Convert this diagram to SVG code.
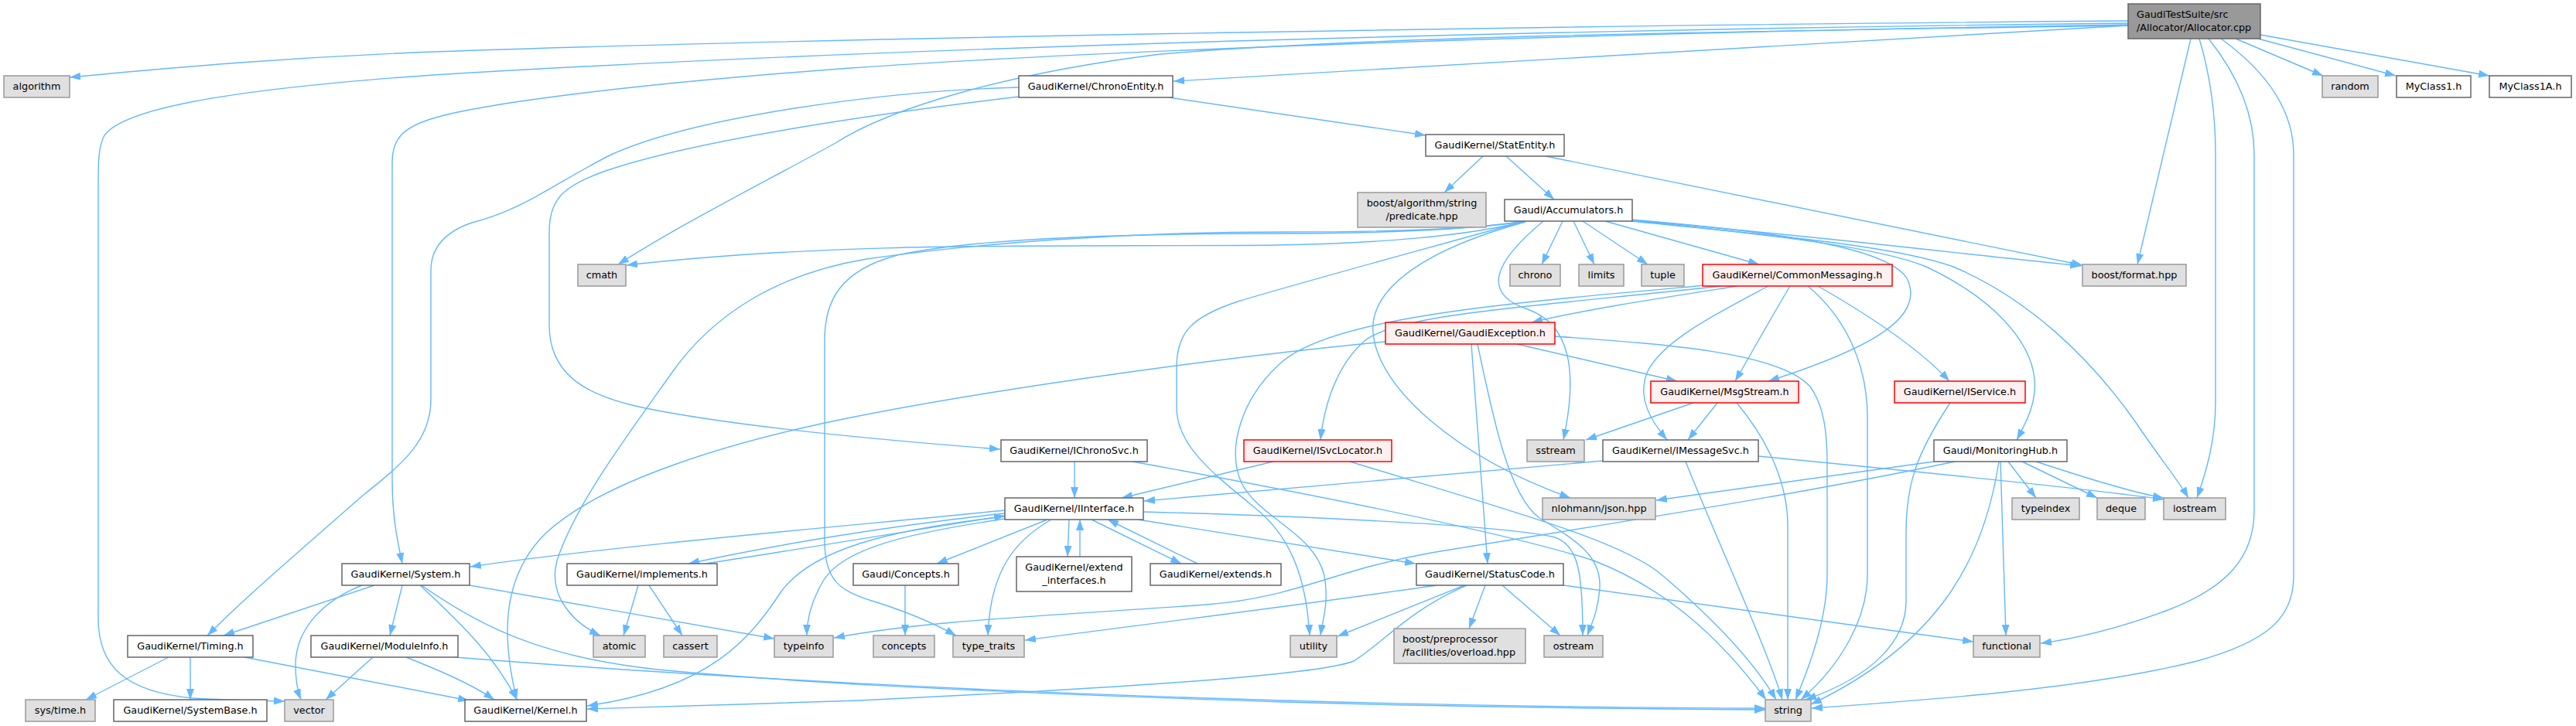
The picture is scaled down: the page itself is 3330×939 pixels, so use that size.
<svg xmlns="http://www.w3.org/2000/svg" width="3330" height="939" viewBox="0 0 3330 939">
<style>
.e{fill:none;stroke:#63b8ff;stroke-width:1.4;marker-end:url(#arr)}
.n{fill:#ffffff;stroke:#666666;stroke-width:1.5}
.g{fill:#e0e0e0;stroke:#999999;stroke-width:1.5}
.r{fill:#fff0f0;stroke:#ff0000;stroke-width:1.5}
.rt{fill:#999999;stroke:#666666;stroke-width:1.5}
text{font-family:"DejaVu Sans",Verdana,sans-serif;font-size:12.8px;fill:#000000;text-anchor:middle}
.l{text-anchor:start}
</style>
<defs>
<marker id="arr" viewBox="0 0 14 10" refX="14" refY="5" markerWidth="14" markerHeight="10" markerUnits="userSpaceOnUse" orient="auto"><path d="M0,0 L14,5 L0,10 z" fill="#63b8ff"/></marker>
</defs>
<rect width="3330" height="939" fill="#ffffff"/>
<g id="edges">
<path class="e" d="M2751,27 C2100,32 1100,48 560,67 C350,75 200,90 90,100"/>
<path class="e" d="M2751,30 C2100,37 1200,58 560,97 C300,115 160,140 135,175 C127,190 127,210 127,240 L127,800 C127,860 160,895 250,903 C300,906 340,906 368,907"/>
<path class="e" d="M2751,33 C2300,40 1800,45 1500,70 C1300,95 1150,140 1080,185 C980,240 880,290 799,342"/>
<path class="e" d="M2751,32 C2200,40 1500,60 1100,88 C800,110 620,135 560,153 C520,165 507,180 507,210 L507,620 C507,670 514,700 520,729"/>
<path class="e" d="M2751,33 L1517,105"/>
<path class="e" d="M2832,50 L2763,342"/>
<path class="e" d="M2890,50 L3003,98"/>
<path class="e" d="M2919,50 L3097,98"/>
<path class="e" d="M2922,45 L3218,98"/>
<path class="e" d="M2843,50 C2858,100 2864,150 2864,200 L2864,520 C2864,570 2852,610 2840,644"/>
<path class="e" d="M2855,50 C2895,100 2914,150 2914,200 L2914,660 C2914,720 2880,760 2800,790 C2740,812 2690,825 2638,832"/>
<path class="e" d="M2871,50 C2940,100 2965,150 2965,200 L2965,745 C2965,800 2930,830 2840,855 C2700,890 2500,905 2342,916"/>
<path class="e" d="M1511,126 L1843,175"/>
<path class="e" d="M1317,113 C1150,117 900,150 790,200 C720,235 680,270 610,288 C575,300 557,320 557,350 L557,517 C557,570 520,600 470,640 C390,710 320,770 268,822"/>
<path class="e" d="M1317,125 C1150,145 900,180 780,222 C725,242 710,260 710,300 L710,420 C710,480 750,510 830,527 C950,552 1150,570 1293,581"/>
<path class="e" d="M1917,202 L1867,249"/>
<path class="e" d="M1947,202 L2009,258"/>
<path class="e" d="M1998,202 L2692,343"/>
<path class="e" d="M2020,286 L1993,342"/>
<path class="e" d="M2034,286 L2061,342"/>
<path class="e" d="M2046,286 L2130,342"/>
<path class="e" d="M2075,286 L2274,342"/>
<path class="e" d="M1972,286 C1900,305 1780,315 1650,317 C1400,320 1100,310 810,343"/>
<path class="e" d="M1972,286 C1900,298 1760,300 1660,300 C1450,300 1260,315 1120,335 C1000,355 920,410 870,480 C810,565 745,650 720,725 C708,770 740,805 776,822"/>
<path class="e" d="M1970,286 C1900,298 1760,302 1660,302 C1450,302 1260,308 1160,330 C1085,350 1066,390 1066,440 L1066,700 C1066,750 1085,765 1130,778 C1175,792 1205,805 1236,822"/>
<path class="e" d="M1971,286 C1850,320 1700,360 1600,390 C1540,410 1521,430 1521,475 L1521,527 C1521,575 1565,610 1620,655 C1665,690 1688,740 1693,822"/>
<path class="e" d="M1995,286 C1930,340 1915,380 1975,400 C2030,420 2040,480 2021,569"/>
<path class="e" d="M1972,287 C1850,320 1770,370 1775,430 C1780,500 1880,590 2030,644"/>
<path class="e" d="M2108,284 C2300,300 2440,320 2465,360 C2490,410 2420,450 2286,493"/>
<path class="e" d="M2108,285 C2300,305 2430,320 2490,345 C2575,385 2625,440 2630,490 C2633,520 2620,545 2607,569"/>
<path class="e" d="M2108,286 C2300,305 2450,318 2525,345 C2620,385 2700,460 2760,545 C2790,590 2815,620 2829,644"/>
<path class="e" d="M2108,285 C2300,300 2550,330 2690,344"/>
<path class="e" d="M2246,370 C2150,385 2050,400 1980,417"/>
<path class="e" d="M2286,370 C2220,405 2150,440 2130,480 C2115,515 2135,545 2155,569"/>
<path class="e" d="M2314,370 C2290,410 2265,455 2243,493"/>
<path class="e" d="M2337,370 C2385,410 2414,470 2414,540 L2414,743 C2414,800 2380,860 2328,905"/>
<path class="e" d="M2350,370 C2420,410 2480,450 2520,493"/>
<path class="e" d="M2225,370 C2000,395 1810,405 1765,440 C1730,470 1712,520 1707,569"/>
<path class="e" d="M2205,369 C1950,392 1720,410 1655,470 C1605,515 1585,580 1605,625 C1628,670 1700,690 1712,745 C1718,780 1710,800 1707,822"/>
<path class="e" d="M1791,442 C1600,460 1300,500 1100,540 C950,570 780,620 705,690 C645,750 650,830 668,905"/>
<path class="e" d="M1902,445 L1923,729"/>
<path class="e" d="M1910,445 C1930,540 1950,640 1990,670 C2040,700 2070,720 2068,760 C2066,790 2058,805 2052,822"/>
<path class="e" d="M1961,445 L2168,493"/>
<path class="e" d="M2010,435 C2150,445 2300,455 2340,500 C2358,525 2362,560 2362,600 L2362,743 C2362,800 2340,860 2321,905"/>
<path class="e" d="M2189,521 L2050,569"/>
<path class="e" d="M2220,521 L2182,569"/>
<path class="e" d="M2245,521 C2290,575 2311,630 2311,680 L2311,905"/>
<path class="e" d="M2072,596 L1479,648"/>
<path class="e" d="M2179,597 C2220,700 2285,840 2304,905"/>
<path class="e" d="M2273,590 C2500,612 2700,632 2797,646"/>
<path class="e" d="M2500,597 L2141,647"/>
<path class="e" d="M2527,597 C2300,645 2000,690 1850,715 C1720,738 1680,772 1560,782 C1350,797 1200,802 1078,825"/>
<path class="e" d="M2596,597 L2632,644"/>
<path class="e" d="M2614,597 L2711,644"/>
<path class="e" d="M2632,597 Q2750,636 2797,644"/>
<path class="e" d="M2586,597 L2593,822"/>
<path class="e" d="M2584,597 C2565,720 2510,830 2341,911"/>
<path class="e" d="M2521,521 C2475,590 2464,630 2464,690 L2464,777 C2464,830 2420,875 2334,905"/>
<path class="e" d="M1646,597 L1450,644"/>
<path class="e" d="M1745,597 C1950,660 2100,700 2150,745 C2220,805 2270,860 2296,905"/>
<path class="e" d="M1389,597 L1389,644"/>
<path class="e" d="M1464,597 C1700,640 1950,690 2060,725 C2150,760 2220,820 2283,905"/>
<path class="e" d="M1299,660 C1100,680 800,705 608,733"/>
<path class="e" d="M1299,664 C1150,680 1000,705 890,729"/>
<path class="e" d="M912,729 C1050,708 1200,682 1299,667"/>
<path class="e" d="M1299,668 C1150,685 1050,710 1010,765 C970,825 920,890 759,913"/>
<path class="e" d="M1299,671 C1170,690 1090,710 1065,750 C1048,778 1043,800 1043,822"/>
<path class="e" d="M1354,672 L1211,729"/>
<path class="e" d="M1359,672 C1310,700 1280,740 1277,822"/>
<path class="e" d="M1382,672 L1380,720"/>
<path class="e" d="M1396,720 L1396,672"/>
<path class="e" d="M1411,672 L1527,729"/>
<path class="e" d="M1548,729 L1432,672"/>
<path class="e" d="M1471,672 L1830,729"/>
<path class="e" d="M1478,662 C1700,668 1950,680 2010,695 C2040,705 2046,740 2046,822"/>
<path class="e" d="M1170,757 L1170,822"/>
<path class="e" d="M825,757 L806,822"/>
<path class="e" d="M839,757 L882,822"/>
<path class="e" d="M484,757 L289,822"/>
<path class="e" d="M468,757 C410,780 382,820 382,860 C382,880 385,895 389,905"/>
<path class="e" d="M520,757 L504,822"/>
<path class="e" d="M543,757 C600,810 640,850 668,905"/>
<path class="e" d="M607,757 L1001,826"/>
<path class="e" d="M545,757 C620,810 700,850 850,866 C1000,880 1200,893 1660,908 C1900,915 2150,917 2282,918"/>
<path class="e" d="M218,850 L111,905"/>
<path class="e" d="M246,850 L246,905"/>
<path class="e" d="M316,850 L606,906"/>
<path class="e" d="M482,850 L421,905"/>
<path class="e" d="M525,850 C570,868 610,885 639,905"/>
<path class="e" d="M588,850 C900,875 1300,896 1660,906 C1900,913 2150,916 2282,916"/>
<path class="e" d="M1920,757 L1899,813"/>
<path class="e" d="M1942,757 L2017,822"/>
<path class="e" d="M1893,757 L1729,823"/>
<path class="e" d="M1896,757 C1820,790 1790,830 1750,855 C1700,875 1400,892 1110,906 C1000,910 850,914 759,917"/>
<path class="e" d="M1857,757 C1700,780 1500,805 1325,828"/>
<path class="e" d="M2021,757 L2551,830"/>
</g>
<g id="n_root"><rect class="rt" x="2751" y="5" width="171" height="45"/><text class="l" x="2762" y="22.5">GaudiTestSuite/src</text><text class="l" x="2762" y="40">/Allocator/Allocator.cpp</text></g>
<g id="n_algorithm"><rect class="g" x="5" y="98" width="85" height="28"/><text x="47.5" y="116">algorithm</text></g>
<g id="n_chronoentity"><rect class="n" x="1317" y="98" width="199" height="28"/><text x="1416.5" y="116">GaudiKernel/ChronoEntity.h</text></g>
<g id="n_random"><rect class="g" x="3002" y="98" width="72" height="28"/><text x="3038" y="116">random</text></g>
<g id="n_myclass1"><rect class="n" x="3098" y="98" width="96" height="28"/><text x="3146" y="116">MyClass1.h</text></g>
<g id="n_myclass1a"><rect class="n" x="3218" y="98" width="106" height="28"/><text x="3271" y="116">MyClass1A.h</text></g>
<g id="n_statentity"><rect class="n" x="1843" y="174" width="179" height="28"/><text x="1932.5" y="192">GaudiKernel/StatEntity.h</text></g>
<g id="n_predicate"><rect class="g" x="1755" y="249" width="166" height="45"/><text x="1838" y="266.5">boost/algorithm/string</text><text x="1838" y="283.5">/predicate.hpp</text></g>
<g id="n_accumulators"><rect class="n" x="1945" y="258" width="165" height="28"/><text x="2027.5" y="276">Gaudi/Accumulators.h</text></g>
<g id="n_cmath"><rect class="g" x="747" y="342" width="62" height="28"/><text x="778" y="360">cmath</text></g>
<g id="n_chrono"><rect class="g" x="1952" y="342" width="65" height="28"/><text x="1984.5" y="360">chrono</text></g>
<g id="n_limits"><rect class="g" x="2041" y="342" width="58" height="28"/><text x="2070" y="360">limits</text></g>
<g id="n_tuple"><rect class="g" x="2122" y="342" width="55" height="28"/><text x="2149.5" y="360">tuple</text></g>
<g id="n_commonmessaging"><rect class="r" x="2201" y="342" width="245" height="28"/><text x="2323.5" y="360">GaudiKernel/CommonMessaging.h</text></g>
<g id="n_format"><rect class="g" x="2692" y="342" width="134" height="28"/><text x="2759" y="360">boost/format.hpp</text></g>
<g id="n_gaudiexception"><rect class="r" x="1791" y="417" width="219" height="28"/><text x="1900.5" y="435">GaudiKernel/GaudiException.h</text></g>
<g id="n_msgstream"><rect class="r" x="2134" y="493" width="191" height="28"/><text x="2229.5" y="511">GaudiKernel/MsgStream.h</text></g>
<g id="n_iservice"><rect class="r" x="2449" y="493" width="169" height="28"/><text x="2533.5" y="511">GaudiKernel/IService.h</text></g>
<g id="n_ichronosvc"><rect class="n" x="1294" y="569" width="189" height="28"/><text x="1388.5" y="587">GaudiKernel/IChronoSvc.h</text></g>
<g id="n_isvclocator"><rect class="r" x="1608" y="569" width="191" height="28"/><text x="1703.5" y="587">GaudiKernel/ISvcLocator.h</text></g>
<g id="n_sstream"><rect class="g" x="1974" y="569" width="74" height="28"/><text x="2011" y="587">sstream</text></g>
<g id="n_imessagesvc"><rect class="n" x="2072" y="569" width="201" height="28"/><text x="2172.5" y="587">GaudiKernel/IMessageSvc.h</text></g>
<g id="n_monitoringhub"><rect class="n" x="2500" y="569" width="172" height="28"/><text x="2586" y="587">Gaudi/MonitoringHub.h</text></g>
<g id="n_iinterface"><rect class="n" x="1299" y="644" width="179" height="28"/><text x="1388.5" y="662">GaudiKernel/IInterface.h</text></g>
<g id="n_json"><rect class="g" x="1994" y="644" width="146" height="28"/><text x="2067" y="662">nlohmann/json.hpp</text></g>
<g id="n_typeindex"><rect class="g" x="2601" y="644" width="87" height="28"/><text x="2644.5" y="662">typeindex</text></g>
<g id="n_deque"><rect class="g" x="2711" y="644" width="62" height="28"/><text x="2742" y="662">deque</text></g>
<g id="n_iostream"><rect class="g" x="2797" y="644" width="80" height="28"/><text x="2837" y="662">iostream</text></g>
<g id="n_system"><rect class="n" x="442" y="729" width="165" height="28"/><text x="524.5" y="747">GaudiKernel/System.h</text></g>
<g id="n_implements"><rect class="n" x="733" y="729" width="194" height="28"/><text x="830" y="747">GaudiKernel/implements.h</text></g>
<g id="n_concepts_h"><rect class="n" x="1103" y="729" width="136" height="28"/><text x="1171" y="747">Gaudi/Concepts.h</text></g>
<g id="n_extend_interfaces"><rect class="n" x="1314" y="720" width="149" height="45"/><text x="1388.5" y="737.5">GaudiKernel/extend</text><text x="1388.5" y="754.5">_interfaces.h</text></g>
<g id="n_extends"><rect class="n" x="1487" y="729" width="169" height="28"/><text x="1571.5" y="747">GaudiKernel/extends.h</text></g>
<g id="n_statuscode"><rect class="n" x="1831" y="729" width="190" height="28"/><text x="1926" y="747">GaudiKernel/StatusCode.h</text></g>
<g id="n_timing"><rect class="n" x="165" y="822" width="162" height="28"/><text x="246" y="840">GaudiKernel/Timing.h</text></g>
<g id="n_moduleinfo"><rect class="n" x="402" y="822" width="190" height="28"/><text x="497" y="840">GaudiKernel/ModuleInfo.h</text></g>
<g id="n_atomic"><rect class="g" x="767" y="822" width="67" height="28"/><text x="800.5" y="840">atomic</text></g>
<g id="n_cassert"><rect class="g" x="858" y="822" width="69" height="28"/><text x="892.5" y="840">cassert</text></g>
<g id="n_typeinfo"><rect class="g" x="1001" y="822" width="76" height="28"/><text x="1039" y="840">typeinfo</text></g>
<g id="n_concepts"><rect class="g" x="1129" y="822" width="79" height="28"/><text x="1168.5" y="840">concepts</text></g>
<g id="n_type_traits"><rect class="g" x="1232" y="822" width="92" height="28"/><text x="1278" y="840">type_traits</text></g>
<g id="n_utility"><rect class="g" x="1668" y="822" width="60" height="28"/><text x="1698" y="840">utility</text></g>
<g id="n_overload"><rect class="g" x="1802" y="813" width="170" height="45"/><text class="l" x="1813" y="830.5">boost/preprocessor</text><text class="l" x="1813" y="847.5">/facilities/overload.hpp</text></g>
<g id="n_ostream"><rect class="g" x="1996" y="822" width="76" height="28"/><text x="2034" y="840">ostream</text></g>
<g id="n_functional"><rect class="g" x="2551" y="822" width="86" height="28"/><text x="2594" y="840">functional</text></g>
<g id="n_systime"><rect class="g" x="33" y="905" width="90" height="28"/><text x="78" y="923">sys/time.h</text></g>
<g id="n_systembase"><rect class="n" x="147" y="905" width="198" height="28"/><text x="246" y="923">GaudiKernel/SystemBase.h</text></g>
<g id="n_vector"><rect class="g" x="368" y="905" width="63" height="28"/><text x="399.5" y="923">vector</text></g>
<g id="n_kernel"><rect class="n" x="601" y="905" width="157" height="28"/><text x="679.5" y="923">GaudiKernel/Kernel.h</text></g>
<g id="n_string"><rect class="g" x="2282" y="905" width="59" height="28"/><text x="2311.5" y="923">string</text></g>
</svg>
